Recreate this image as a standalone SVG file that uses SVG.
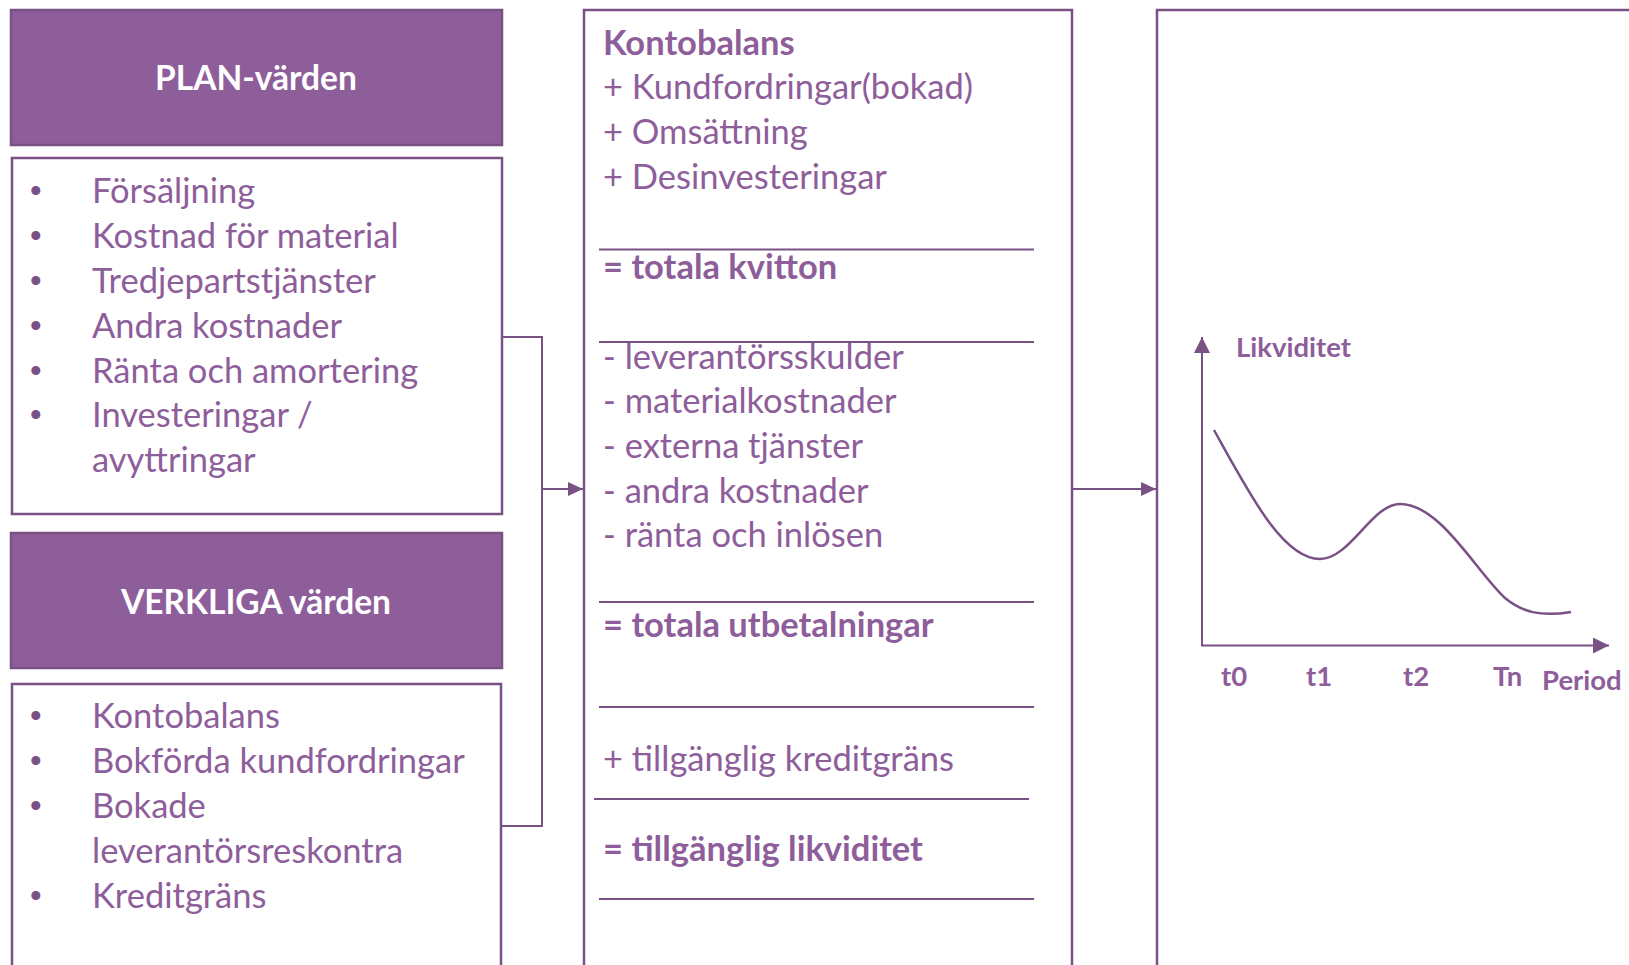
<svg xmlns="http://www.w3.org/2000/svg" width="1629" height="965" viewBox="0 0 1629 965">
<defs>
<style>
.hdr{fill:#8E5E9B;stroke:#7A5185;stroke-width:2.5}
.box{fill:#fff;stroke:#7A5185;stroke-width:2.5}
.ht{font-family:Lato,"Liberation Sans",sans-serif;font-weight:bold;font-size:33.5px;fill:#fff;text-anchor:middle}
.t{font-family:Lato,"Liberation Sans",sans-serif;font-size:34.5px;fill:#8E5E9B}
.b{font-weight:bold}
.bul{font-family:"Liberation Sans",sans-serif;font-size:33px;fill:#7A5185}
.sep{stroke:#7A5185;stroke-width:2}
.con{fill:none;stroke:#7A5185;stroke-width:2}
.ct{font-family:Lato,"Liberation Sans",sans-serif;font-weight:bold;font-size:27.5px;fill:#8E5E9B}
</style>
<marker id="ah" viewBox="0 0 10 10" refX="10" refY="5" markerWidth="15" markerHeight="14" markerUnits="userSpaceOnUse" orient="auto" preserveAspectRatio="none">
<path d="M0,0 L10,5 L0,10 z" fill="#7A5185"/>
</marker>
<marker id="ah2" viewBox="0 0 10 10" refX="10" refY="5" markerWidth="16" markerHeight="16" markerUnits="userSpaceOnUse" orient="auto">
<path d="M0,0 L10,5 L0,10 z" fill="#7A5185"/>
</marker>
</defs>

<g id="plan-header">
<rect class="hdr" x="11" y="10" width="491" height="135"/>
<text class="ht" x="256" y="90">PLAN-värden</text>
</g>

<g id="plan-list">
<rect class="box" x="12" y="158" width="490" height="356"/>
<text class="bul" x="30" y="202">•</text>
<text class="bul" x="30" y="247">•</text>
<text class="bul" x="30" y="292">•</text>
<text class="bul" x="30" y="337">•</text>
<text class="bul" x="30" y="382">•</text>
<text class="bul" x="30" y="426">•</text>
<text class="t" x="92" y="203">Försäljning</text>
<text class="t" x="92" y="248">Kostnad för material</text>
<text class="t" x="92" y="293">Tredjepartstjänster</text>
<text class="t" x="92" y="338">Andra kostnader</text>
<text class="t" x="92" y="383">Ränta och amortering</text>
<text class="t" x="92" y="427">Investeringar /</text>
<text class="t" x="92" y="472">avyttringar</text>
</g>

<g id="verkliga-header">
<rect class="hdr" x="11" y="533" width="491" height="135"/>
<text class="ht" x="256" y="614">VERKLIGA värden</text>
</g>

<g id="verkliga-list">
<rect class="box" x="12" y="684" width="489" height="300"/>
<text class="bul" x="30" y="727">•</text>
<text class="bul" x="30" y="772">•</text>
<text class="bul" x="30" y="817">•</text>
<text class="bul" x="30" y="907">•</text>
<text class="t" x="92" y="728">Kontobalans</text>
<text class="t" x="92" y="773">Bokförda kundfordringar</text>
<text class="t" x="92" y="818">Bokade</text>
<text class="t" x="92" y="863">leverantörsreskontra</text>
<text class="t" x="92" y="908">Kreditgräns</text>
</g>

<g id="calc-box">
<rect class="box" x="584" y="10" width="488" height="975"/>
<text class="t b" x="603" y="55">Kontobalans</text>
<text class="t" x="603" y="99">+ Kundfordringar(bokad)</text>
<text class="t" x="603" y="144">+ Omsättning</text>
<text class="t" x="603" y="189">+ Desinvesteringar</text>
<line class="sep" x1="599" y1="249.5" x2="1034" y2="249.5"/>
<text class="t b" x="603" y="279">= totala kvitton</text>
<line class="sep" x1="599" y1="342" x2="1034" y2="342"/>
<text class="t" x="603" y="369">- leverantörsskulder</text>
<text class="t" x="603" y="413">- materialkostnader</text>
<text class="t" x="603" y="458">- externa tjänster</text>
<text class="t" x="603" y="503">- andra kostnader</text>
<text class="t" x="603" y="547">- ränta och inlösen</text>
<line class="sep" x1="599" y1="602" x2="1034" y2="602"/>
<text class="t b" x="603" y="637">= totala utbetalningar</text>
<line class="sep" x1="599" y1="707" x2="1034" y2="707"/>
<text class="t" x="603" y="771">+ tillgänglig kreditgräns</text>
<line class="sep" x1="594" y1="799" x2="1029" y2="799"/>
<text class="t b" x="603" y="861">= tillgänglig likviditet</text>
<line class="sep" x1="599" y1="899" x2="1034" y2="899"/>
</g>

<g id="chart-box">
<rect class="box" x="1157" y="10" width="520" height="975"/>
<line class="con" x1="1202" y1="646" x2="1202" y2="337" marker-end="url(#ah2)"/>
<line class="con" x1="1201" y1="645.5" x2="1609" y2="645.5" marker-end="url(#ah2)"/>
<text class="ct" x="1236" y="357">Likviditet</text>
<path d="M1214,430 C1250,495 1283,559 1320,559 C1350,559 1372,504 1400,504 C1440,504 1475,570 1505,598 C1522,612 1540,617 1571,612" fill="none" stroke="#7A5185" stroke-width="2.5"/>
<text class="ct" x="1221" y="686">t0</text>
<text class="ct" x="1306" y="686">t1</text>
<text class="ct" x="1403" y="686">t2</text>
<text class="ct" x="1493" y="686">Tn</text>
<text class="ct" x="1542" y="690">Period</text>
</g>

<g id="connectors">
<polyline class="con" points="502,337 542,337 542,826 502,826"/>
<line class="con" x1="542" y1="489" x2="583" y2="489" marker-end="url(#ah)"/>
<line class="con" x1="1073" y1="489" x2="1156" y2="489" marker-end="url(#ah)"/>
</g>
</svg>
